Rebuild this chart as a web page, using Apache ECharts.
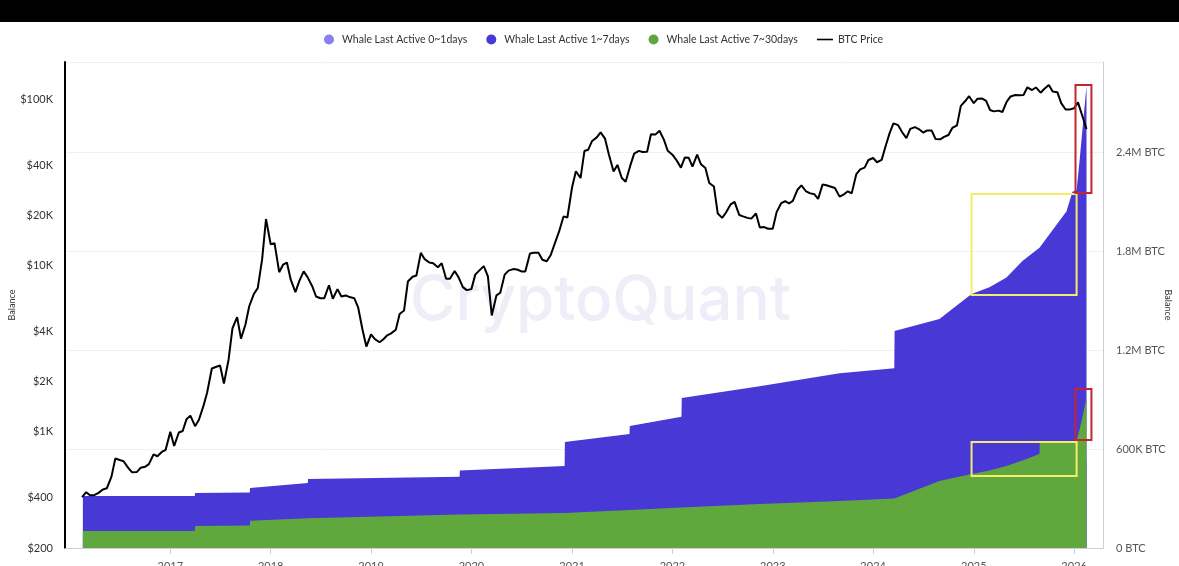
<!DOCTYPE html>
<html>
<head>
<meta charset="utf-8">
<script src="https://cdn.jsdelivr.net/npm/echarts@6/dist/echarts.min.js"></script>
<style>
  html, body { margin: 0; padding: 0; background: #fff; }
  #topbar { position: absolute; left: 0; top: 0; width: 1179px; height: 22px; background: #000; z-index: 2; }
  #chart { width: 1179px; height: 566px; }
</style>
</head>
<body>
<div id="topbar"></div>
<div id="chart"></div>
<script>
// BTC price, sampled on the 1st and 15th of each month (2016-02-15 .. 2026-02-15)
const priceValues = [
  405,
  433, 415, 417, 429, 450, 457, 537, 690, 676, 665, 607, 570, 572, 607, 615, 639, 730, 712, 756, 778,
  998, 822, 989, 1010, 1190, 1250, 1080, 1180, 1420, 1720, 2400, 2450, 2500, 1950, 2720, 4180, 4890, 3630, 4400, 5680, 6740, 7300, 10900, 19000,
  13400, 13600, 9100, 10100, 10400, 8200, 6900, 8050, 9200, 8500, 7500, 6500, 6350, 6350, 7600, 6300, 7200, 6500, 6600, 6450, 6350, 5600, 4100, 3250,
  3850, 3600, 3450, 3600, 3800, 3900, 4100, 5100, 5350, 8000, 8550, 8700, 11900, 10900, 10400, 10300, 9750, 10300, 8300, 8300, 9250, 8500, 7400, 7100,
  7200, 8800, 9400, 9900, 8600, 5000, 6600, 6850, 8800, 9300, 9500, 9450, 9200, 9200, 11800, 11900, 11900, 10800, 10600, 11500, 13800, 16000, 19700, 19400,
  29400, 36800, 33500, 48700, 49600, 56000, 58800, 63000, 57800, 46400, 36700, 40200, 33500, 31800, 39900, 47000, 48800, 48100, 48200, 61500, 61300, 64500, 57000, 48900,
  46300, 43100, 38700, 44500, 44400, 39300, 46300, 40500, 38500, 31300, 29800, 20500, 19300, 20800, 23300, 24100, 20100, 19700, 19300, 19100, 20500, 16900, 17000, 16600,
  16600, 20900, 23700, 24300, 23600, 24400, 28500, 30300, 28000, 27200, 26800, 25100, 30600, 30300, 29700, 29200, 25900, 26600, 27900, 27100, 35400, 37800, 38700, 43000,
  44200, 41700, 43100, 51800, 62400, 71400, 69700, 63400, 58200, 66200, 67800, 66000, 62900, 64700, 64600, 57500, 57300, 59200, 60800, 67000, 69500, 91000, 97300, 104000,
  94400, 100500, 100600, 97500, 86000, 84300, 85200, 83600, 96500, 103700, 105700, 105500, 105700, 117700, 113300, 117400, 109200, 115300, 121500, 111000, 110000, 94500, 86500, 86400,
  88000, 95500, 78000, 66000
];

// whale balances (BTC)
const balanceDates = [
  '2016-02-18', '2017-03-31', '2017-04-01', '2017-10-17', '2017-10-18', '2018-05-16', '2018-05-17',
  '2019-11-19', '2019-11-20', '2020-12-05', '2020-12-06', '2021-07-29', '2021-07-30', '2022-02-03',
  '2022-02-04', '2022-11-14', '2023-09-01', '2024-03-18', '2024-03-19', '2024-08-29', '2024-12-24',
  '2025-02-27', '2025-04-30', '2025-06-27', '2025-08-28', '2025-08-29', '2025-10-29', '2025-12-04',
  '2025-12-26', '2026-01-10', '2026-01-21', '2026-02-01', '2026-02-15'
];
const active0to1 = [
  62000, 62000, 80000, 82000, 99000, 108000, 113000, 122000, 124000, 127000, 131000, 138000, 142000,
  147000, 153000, 160000, 171000, 180000, 183000, 244000, 269000, 282000, 298000, 318000, 342000,
  380000, 384000, 386000, 388000, 389000, 432000, 480000, 545000
];
const active1to7 = [
  315000, 315000, 333000, 336000, 364000, 394000, 418000, 432000, 470000, 497000, 642000, 691000, 739000,
  795000, 909000, 980000, 1060000, 1090000, 1315000, 1388000, 1540000, 1580000, 1640000, 1740000,
  1820000, 1825000, 1960000, 2040000, 2160000, 2170000, 2350000, 2550000, 2800000
];
const active7to30 = [
  103000, 103000, 133000, 136000, 165000, 180000, 188000, 203000, 206000, 212000, 218000, 230000, 236000,
  245000, 255000, 267000, 285000, 300000, 305000, 406000, 449000, 470000, 497000, 530000, 570000,
  636000, 640000, 643000, 646000, 648000, 720000, 800000, 909000
];

const yearTicks = ['2017-01-01', '2018-01-01', '2019-01-01', '2020-01-01', '2021-01-01',
  '2022-01-01', '2023-01-01', '2024-01-01', '2025-01-01', '2026-01-01'];
const priceTicks = [200, 400, 1000, 2000, 4000, 10000, 20000, 40000, 100000];

// highlight boxes drawn over the chart: [from date, to date, low BTC, high BTC, colour]
const boxes = [
  ['2024-12-24', '2026-01-10', 1533000, 2146000, '#f3ee6a'],
  ['2026-01-06', '2026-03-05', 2152000, 2806000, '#c3272d'],
  ['2024-12-24', '2026-01-10', 436000, 642000, '#f3ee6a'],
  ['2026-01-06', '2026-03-05', 655000, 964000, '#c3272d']
];

const priceDates = [];
for (let y = 2016; y <= 2026; y++) {
  for (let m = 1; m <= 12; m++) {
    for (const d of [1, 15]) {
      const s = y + '-' + String(m).padStart(2, '0') + '-' + String(d).padStart(2, '0');
      if (s >= '2016-02-15' && s <= '2026-02-15') priceDates.push(s);
    }
  }
}

const pair = (dates, vals) => vals.map((v, i) => [dates[i], v]);
const fmtPrice = (v) => '$' + (v >= 1000 ? (v / 1000) + 'K' : v);
const fmtBal = (v) => {
  if (v === 0) return '0 BTC';
  if (v >= 1000000) return (v / 1000000) + 'M BTC';
  return (v / 1000) + 'K BTC';
};

const FONT = 'Lato';
const chart = echarts.init(document.getElementById('chart'));

const areaSeries = (name, vals, color) => ({
  name: name,
  type: 'line',
  yAxisIndex: 1,
  symbol: 'none',
  data: pair(balanceDates, vals),
  lineStyle: { width: 0 },
  itemStyle: { color: color },
  areaStyle: { color: color, opacity: 1 }
});

const option = {
  animation: false,
  backgroundColor: '#fff',
  textStyle: { fontFamily: FONT },
  graphic: [{
    type: 'text',
    left: 410,
    top: 270,
    z: 0,
    silent: true,
    style: { text: 'CryptoQuant', fill: '#eeeef8', font: '500 62px Inter' }
  }],
  legend: {
    top: 29,
    left: 319,
    itemWidth: 16,
    itemHeight: 10,
    itemGap: 19,
    textStyle: { fontSize: 10.5, color: '#333', fontFamily: FONT },
    data: [
      { name: 'Whale Last Active 0~1days', icon: 'circle' },
      { name: 'Whale Last Active 1~7days', icon: 'circle' },
      { name: 'Whale Last Active 7~30days', icon: 'circle' },
      { name: 'BTC Price', icon: 'path://M0,0 L10,0 L10,1 L0,1 Z' }
    ]
  },
  grid: { left: 65, right: 76, top: 62, bottom: 18, outerBoundsMode: 'none' },
  xAxis: {
    type: 'time',
    min: '2015-12-15',
    max: '2026-04-16',
    axisLine: { lineStyle: { color: '#ccd0d6' } },
    axisTick: { show: true, length: 6, lineStyle: { color: '#ccd0d6' }, customValues: yearTicks },
    axisLabel: { customValues: yearTicks, formatter: '{yyyy}', color: '#555', fontSize: 11, margin: 13 },
    splitLine: { show: false }
  },
  yAxis: [{
    type: 'log',
    position: 'left',
    min: 200,
    max: 167000,
    name: 'Balance',
    nameLocation: 'middle',
    nameGap: 48,
    nameMoveOverlap: false,
    nameTextStyle: { fontSize: 9, color: '#333' },
    axisLine: { show: true, lineStyle: { color: '#000', width: 2 } },
    axisTick: { show: false },
    splitLine: { show: false },
    axisLabel: { customValues: priceTicks, formatter: fmtPrice, color: '#333', fontSize: 11, margin: 12 }
  }, {
    type: 'value',
    position: 'right',
    min: 0,
    max: 2946000,
    interval: 600000,
    name: 'Balance',
    nameLocation: 'middle',
    nameRotate: -90,
    nameGap: 60,
    nameMoveOverlap: false,
    nameTextStyle: { fontSize: 9, color: '#333' },
    axisLine: { show: true, lineStyle: { color: '#ccd0d6' } },
    axisTick: { show: false },
    splitLine: { lineStyle: { color: '#f1f1f1' } },
    axisLabel: { formatter: fmtBal, color: '#555', fontSize: 11, margin: 13, showMaxLabel: false }
  }],
  series: [
    areaSeries('Whale Last Active 0~1days', active0to1, '#8b7ef0'),
    areaSeries('Whale Last Active 1~7days', active1to7, '#4838d6'),
    areaSeries('Whale Last Active 7~30days', active7to30, '#60a83e'),
    {
      name: 'BTC Price',
      type: 'line',
      yAxisIndex: 0,
      symbol: 'none',
      z: 3,
      data: pair(priceDates, priceValues),
      lineStyle: { color: '#000', width: 2 },
      itemStyle: { color: '#000' }
    },
    {
      name: 'boxes',
      type: 'line',
      yAxisIndex: 1,
      data: [],
      z: 10,
      markArea: {
        silent: true,
        z: 10,
        data: boxes.map((b) => [
          { xAxis: b[0], yAxis: b[2], itemStyle: { color: 'rgba(0,0,0,0)', borderColor: b[4], borderWidth: 2 } },
          { xAxis: b[1], yAxis: b[3] }
        ])
      }
    }
  ]
};

chart.setOption(option);
</script>
</body>
</html>
